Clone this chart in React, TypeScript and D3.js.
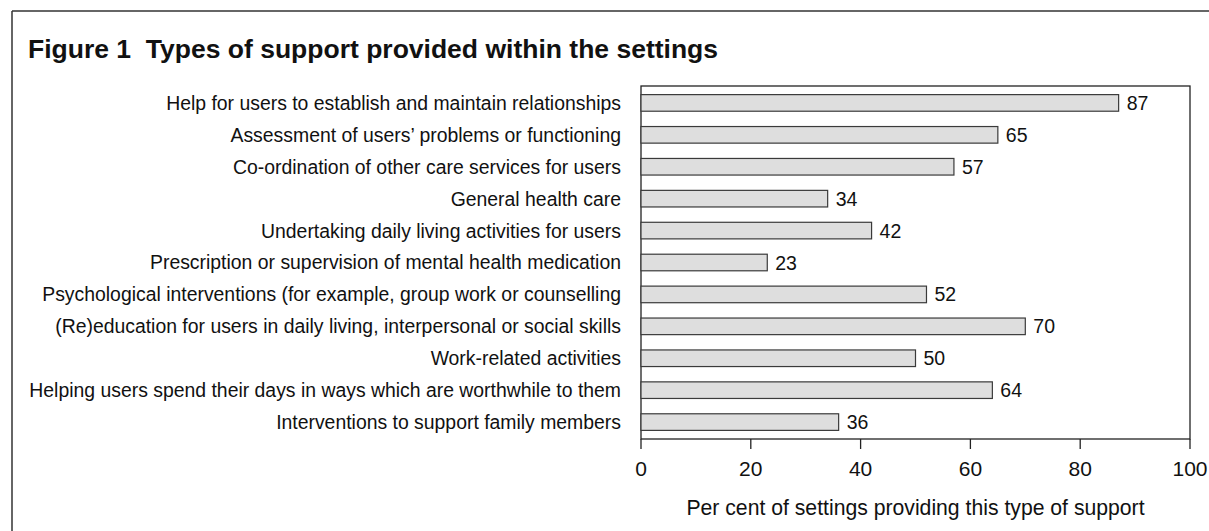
import React from "react";
import * as d3 from "d3";

const categories = [
  "Help for users to establish and maintain relationships",
  "Assessment of users\u2019 problems or functioning",
  "Co-ordination of other care services for users",
  "General health care",
  "Undertaking daily living activities for users",
  "Prescription or supervision of mental health medication",
  "Psychological interventions (for example, group work or counselling",
  "(Re)education for users in daily living, interpersonal or social skills",
  "Work-related activities",
  "Helping users spend their days in ways which are worthwhile to them",
  "Interventions to support family members",
];
const values = [87, 65, 57, 34, 42, 23, 52, 70, 50, 64, 36];
const xTicks = [0, 20, 40, 60, 80, 100];
const title = "Figure 1  Types of support provided within the settings";
const xTitle = "Per cent of settings providing this type of support";

const W = 1209;
const H = 531;
const FONT = "'Liberation Sans', Arial, Helvetica, sans-serif";

export default function App() {
  const left = 641, right = 1190, top = 86, bottom = 439;
  const x = d3.scaleLinear().domain([0, 100]).range([left, right]);
  const y = d3
    .scaleBand<string>()
    .domain(categories)
    .range([top, bottom])
    .paddingInner(0.48)
    .paddingOuter(0.27);
  const bw = y.bandwidth();
  return (
    <svg
      width={W}
      height={H}
      style={{ position: "absolute", left: 0, top: 0, background: "#fff" }}
      fontFamily={FONT}
    >
      <rect x={0} y={0} width={W} height={H} fill="#fff" />
      {/* frame */}
      <line x1={12} y1={11} x2={W} y2={11} stroke="#333" strokeWidth={1.5} />
      <line x1={12} y1={11} x2={12} y2={H} stroke="#333" strokeWidth={1.5} />
      <text x={28} y={57.5} fontSize={26.5} fontWeight="bold" fill="#111">
        {title.replace("  ", "\u00a0\u00a0")}
      </text>
      {/* plot frame */}
      <rect
        x={left}
        y={top}
        width={right - left}
        height={bottom - top}
        fill="none"
        stroke="#222"
        strokeWidth={1.3}
      />
      {/* bars */}
      {categories.map((c, i) => {
        const yy = y(c)!;
        return (
          <g key={c}>
            <rect
              x={x(0)}
              y={yy}
              width={x(values[i]) - x(0)}
              height={bw}
              fill="#dedede"
              stroke="#3a3a3a"
              strokeWidth={1.2}
            />
            <text
              x={x(values[i]) + 8}
              y={yy + bw / 2}
              dy="0.36em"
              fontSize={19.5}
              fill="#111"
            >
              {values[i]}
            </text>
            <text
              x={621}
              y={yy + bw / 2}
              dy="0.36em"
              fontSize={19.4}
              textAnchor="end"
              fill="#111"
            >
              {c}
            </text>
          </g>
        );
      })}
      {/* x axis ticks */}
      {xTicks.map((t) => (
        <g key={t}>
          <line x1={x(t)} x2={x(t)} y1={bottom} y2={bottom + 10} stroke="#222" strokeWidth={1.3} />
          <text x={x(t)} y={476} fontSize={21} textAnchor="middle" fill="#111">
            {t}
          </text>
        </g>
      ))}
      <text x={(left + right) / 2} y={515} fontSize={21.2} textAnchor="middle" fill="#111">
        {xTitle}
      </text>
    </svg>
  );
}
